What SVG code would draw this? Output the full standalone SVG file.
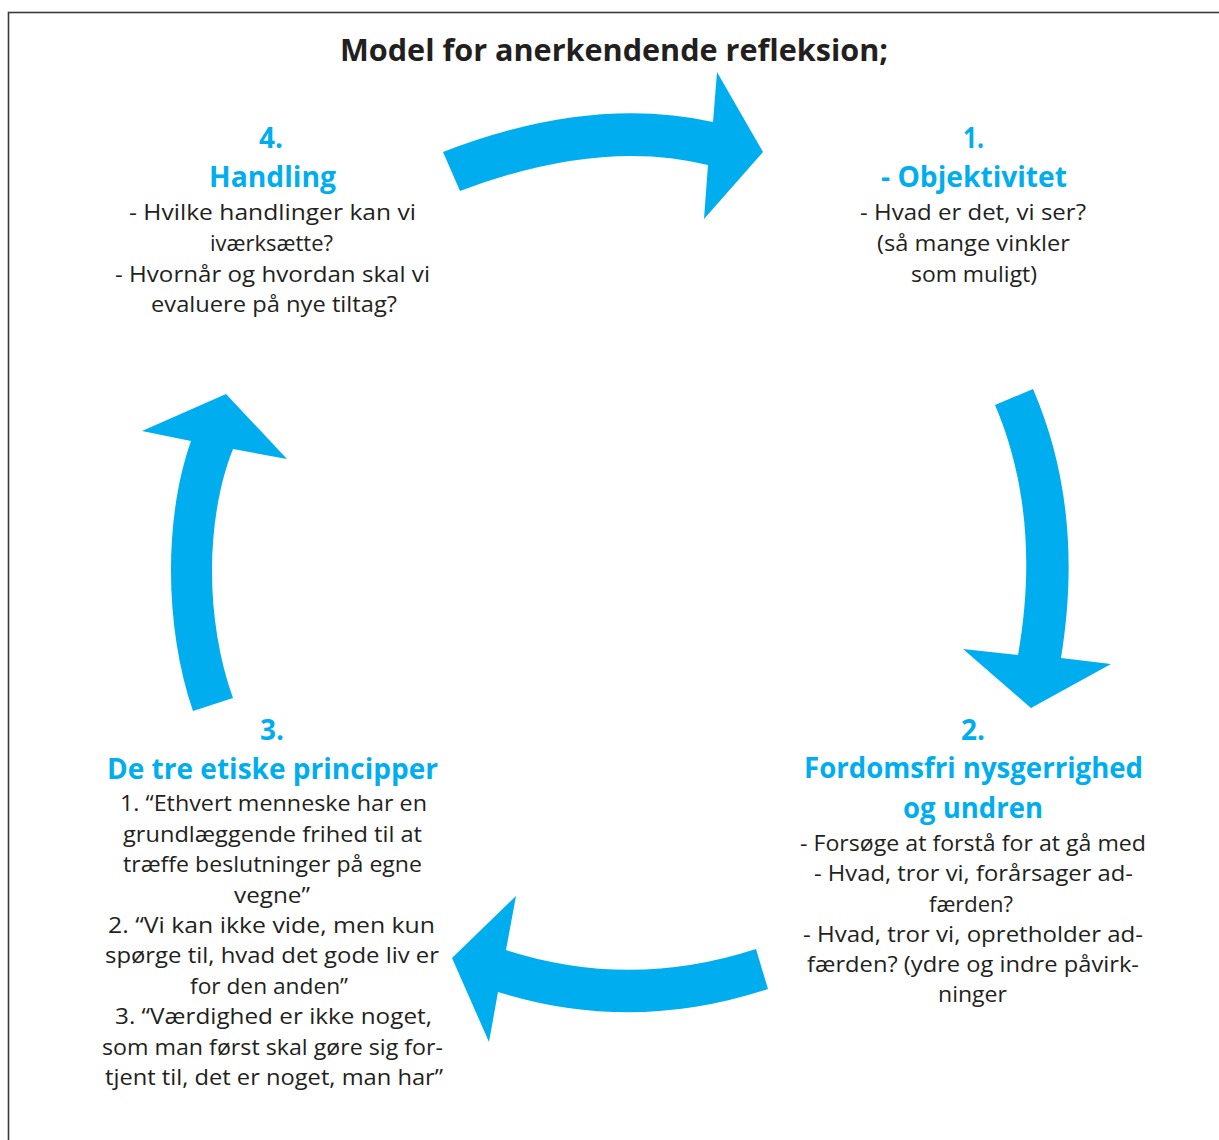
<svg xmlns="http://www.w3.org/2000/svg" width="1219" height="1140" viewBox="0 0 1219 1140">
<style>
.body{font-family:"Open Sans","Noto Sans",sans-serif;font-size:21px;fill:#231f20;text-anchor:middle}
.head{font-family:"Open Sans","Noto Sans",sans-serif;font-size:29px;font-weight:bold;fill:#00aeef;text-anchor:middle}
.title{font-family:"Open Sans","Noto Sans",sans-serif;font-size:30px;font-weight:bold;fill:#231f20;text-anchor:middle}
.arrow{fill:#00aeef;stroke:none}
</style>
<rect x="8.5" y="12.5" width="1230" height="1150" fill="#ffffff" stroke="#3a3a3a" stroke-width="1.6"/>
<text class="title" x="614" y="61" textLength="548" lengthAdjust="spacingAndGlyphs">Model for anerkendende refleksion;</text>
<g id="connectors">
<path class="arrow" d="M443,152 Q590,95 713,122 L717,72 L763,152 L704,219 L708,165 Q600,138 460,191 Z"/>
<path class="arrow" d="M995,405 C1025,475 1035,560 1018,655 L963,649 L1031,708 L1111,664 L1061,658 C1077,560 1068,470 1033,389 Z"/>
<path class="arrow" d="M756,949 Q630,990 506,950 L516,896 L452,958 L489,1042 L498,992 Q632,1034 768,989 Z"/>
<path class="arrow" d="M193,711 C165,630 163,520 191,441 L142,431 L226,394 L287,459 L233,449 C205,520 205,620 233,698 Z"/>
</g>
<g id="node4">
<text class="head" x="271" y="148" textLength="24" lengthAdjust="spacingAndGlyphs">4.</text>
<text class="head" x="272.5" y="187" textLength="127" lengthAdjust="spacingAndGlyphs">Handling</text>
<text class="body" x="272.5" y="220" textLength="287" lengthAdjust="spacingAndGlyphs">- Hvilke handlinger kan vi</text>
<text class="body" x="271.5" y="251" textLength="123" lengthAdjust="spacingAndGlyphs">iværksætte?</text>
<text class="body" x="272.5" y="282" textLength="315" lengthAdjust="spacingAndGlyphs">- Hvornår og hvordan skal vi</text>
<text class="body" x="274" y="312" textLength="246" lengthAdjust="spacingAndGlyphs">evaluere på nye tiltag?</text>
</g>
<g id="node1">
<text class="head" x="973.5" y="148" textLength="21" lengthAdjust="spacingAndGlyphs">1.</text>
<text class="head" x="974" y="187" textLength="186" lengthAdjust="spacingAndGlyphs">- Objektivitet</text>
<text class="body" x="973" y="220" textLength="226" lengthAdjust="spacingAndGlyphs">- Hvad er det, vi ser?</text>
<text class="body" x="973.5" y="251" textLength="193" lengthAdjust="spacingAndGlyphs">(så mange vinkler</text>
<text class="body" x="974" y="282" textLength="126" lengthAdjust="spacingAndGlyphs">som muligt)</text>
</g>
<g id="node2">
<text class="head" x="973" y="740" textLength="24" lengthAdjust="spacingAndGlyphs">2.</text>
<text class="head" x="973.5" y="778" textLength="339" lengthAdjust="spacingAndGlyphs">Fordomsfri nysgerrighed</text>
<text class="head" x="973" y="818" textLength="140" lengthAdjust="spacingAndGlyphs">og undren</text>
<text class="body" x="973" y="851" textLength="346" lengthAdjust="spacingAndGlyphs">- Forsøge at forstå for at gå med</text>
<text class="body" x="973.5" y="881" textLength="319" lengthAdjust="spacingAndGlyphs">- Hvad, tror vi, forårsager ad-</text>
<text class="body" x="971" y="912" textLength="84" lengthAdjust="spacingAndGlyphs">færden?</text>
<text class="body" x="973" y="942" textLength="340" lengthAdjust="spacingAndGlyphs">- Hvad, tror vi, opretholder ad-</text>
<text class="body" x="973" y="972" textLength="332" lengthAdjust="spacingAndGlyphs">færden? (ydre og indre påvirk-</text>
<text class="body" x="972.5" y="1002" textLength="69" lengthAdjust="spacingAndGlyphs">ninger</text>
</g>
<g id="node3">
<text class="head" x="272" y="740" textLength="24" lengthAdjust="spacingAndGlyphs">3.</text>
<text class="head" x="272.5" y="779" textLength="331" lengthAdjust="spacingAndGlyphs">De tre etiske principper</text>
<text class="body" x="273.5" y="811" textLength="307" lengthAdjust="spacingAndGlyphs">1. “Ethvert menneske har en</text>
<text class="body" x="272.5" y="842" textLength="299" lengthAdjust="spacingAndGlyphs">grundlæggende frihed til at</text>
<text class="body" x="272.5" y="872" textLength="299" lengthAdjust="spacingAndGlyphs">træffe beslutninger på egne</text>
<text class="body" x="272" y="903" textLength="76" lengthAdjust="spacingAndGlyphs">vegne”</text>
<text class="body" x="271.5" y="933" textLength="327" lengthAdjust="spacingAndGlyphs">2. “Vi kan ikke vide, men kun</text>
<text class="body" x="272" y="963" textLength="334" lengthAdjust="spacingAndGlyphs">spørge til, hvad det gode liv er</text>
<text class="body" x="269" y="994" textLength="158" lengthAdjust="spacingAndGlyphs">for den anden”</text>
<text class="body" x="273.5" y="1024" textLength="317" lengthAdjust="spacingAndGlyphs">3. “Værdighed er ikke noget,</text>
<text class="body" x="272.5" y="1055" textLength="341" lengthAdjust="spacingAndGlyphs">som man først skal gøre sig for-</text>
<text class="body" x="274" y="1085" textLength="338" lengthAdjust="spacingAndGlyphs">tjent til, det er noget, man har”</text>
</g>
</svg>
